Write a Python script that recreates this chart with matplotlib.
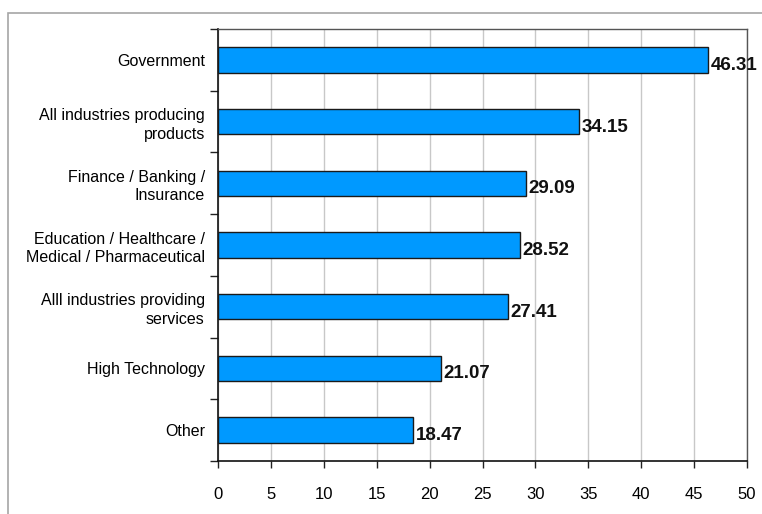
import matplotlib.pyplot as plt
from matplotlib.patches import Rectangle
from matplotlib.ticker import FixedLocator, NullFormatter

# Average value by industry sector
sectors = [
    "Government",
    "All industries producing\nproducts",
    "Finance / Banking /\nInsurance",
    "Education / Healthcare /\nMedical / Pharmaceutical",
    "Alll industries providing\nservices",
    "High Technology",
    "Other",
]
values = [46.31, 34.15, 29.09, 28.52, 27.41, 21.07, 18.47]
x_ticks = [0, 5, 10, 15, 20, 25, 30, 35, 40, 45, 50]

plt.rcParams['font.family'] = ['Liberation Sans', 'DejaVu Sans']

fig = plt.figure(figsize=(7.62, 5.14), dpi=100)

# light gray frame around the chart area
fig.patches.append(Rectangle((8 / 762, -0.1), 1.2, (514 - 12.5) / 514 + 0.1,
                             transform=fig.transFigure, fill=False,
                             edgecolor='#a6a6a6', linewidth=1.2))

ax = fig.add_axes([218 / 762, 53 / 514, 529 / 762, 432 / 514])

ypos = list(range(len(sectors)))
ax.barh(ypos, values, height=0.41, color='#0099ff', edgecolor='#1a1a1a', linewidth=1.0, zorder=3)

for y, v in zip(ypos, values):
    ax.text(v + 0.25, y + 0.09, f"{v:.2f}", ha='left', va='center',
            fontsize=13.5, fontweight='bold', color='#111111', zorder=4)

ax.set_xlim(0, 50)
ax.set_ylim(len(sectors) - 0.5, -0.5)

ax.set_xticks(x_ticks)
ax.set_xticklabels([str(t) for t in x_ticks], fontsize=12)
ax.tick_params(axis='x', length=5, width=1, pad=14, color='#222222')

ax.set_yticks(ypos)
ax.set_yticklabels(sectors, fontsize=11.5, linespacing=1.3)
ax.tick_params(axis='y', which='major', length=0, pad=9.5)
ax.yaxis.set_minor_locator(FixedLocator([i - 0.5 for i in range(len(sectors) + 1)]))
ax.yaxis.set_minor_formatter(NullFormatter())
ax.tick_params(axis='y', which='minor', length=6, width=1, color='#222222')

ax.grid(axis='x', color='#c8c8c8', linewidth=1, zorder=0)
ax.set_axisbelow(True)

for side in ['left', 'bottom']:
    ax.spines[side].set_color('#111111')
    ax.spines[side].set_linewidth(1.2)
for side in ['top', 'right']:
    ax.spines[side].set_color('#555555')
    ax.spines[side].set_linewidth(1.0)

fig.savefig("out.png", dpi=100)
